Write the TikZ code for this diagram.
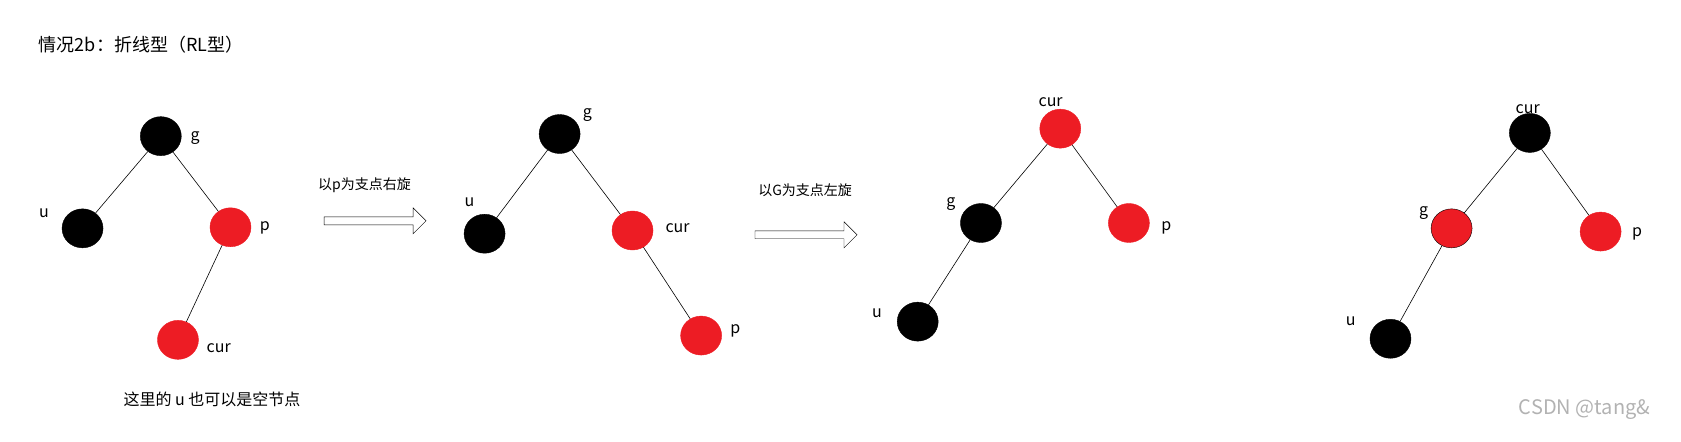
\documentclass[tikz,border=0pt]{standalone}
\usepackage{fontspec}
\setmainfont{Noto Sans CJK SC}
\usetikzlibrary{shapes.geometric,shapes.arrows}
\definecolor{rd}{HTML}{ED1C24}
\tikzset{x=1.072pt,y=-1.072pt,
 bn/.style={ellipse,fill=black,draw=black,minimum width=41pt,minimum height=39pt,inner sep=0},
 rn/.style={ellipse,fill=rd,draw=rd,minimum width=41pt,minimum height=39pt,inner sep=0},
 lb/.style={font=\fontsize{16}{16}\selectfont},
 ln/.style={draw=black,line width=0.6pt},
 harrow/.style={single arrow,draw=black,fill=white,minimum height=102pt,minimum width=26pt,single arrow head extend=5pt,inner sep=2pt}}
\begin{document}
\begin{tikzpicture}
\node[anchor=west,font=\fontsize{18}{18}\selectfont] (title) at (33,42) {情况2b：折线型（RL型）};
% tree1
\node[bn] (g1) at (150,127) {};
\node[bn] (u1) at (77,213) {};
\node[rn] (p1) at (215,212) {};
\node[rn] (c1) at (166,317) {};
\draw[ln] (g1)--(u1) (g1)--(p1) (p1)--(c1);
\node[lb] (lg1) at (182,129) {g};
\node[lb] (lu1) at (41,199) {u};
\node[lb] (lp1) at (247,213) {p};
\node[lb] (lc1) at (204,325) {cur};
\node[anchor=west,font=\fontsize{16}{16}\selectfont] (note) at (112,373) {这里的 u 也可以是空节点};
% arrow1
\node[harrow] (a1) at (348,206) {};
\node[font=\fontsize{14}{14}\selectfont] (ta1) at (340,173) {以p为支点右旋};
% tree2
\node[bn] (g2) at (522,125) {};
\node[bn] (u2) at (452,218) {};
\node[rn] (c2) at (590,215) {};
\node[rn] (p2) at (654,313) {};
\draw[ln] (g2)--(u2) (g2)--(c2) (c2)--(p2);
\node[lb] (lg2) at (548,107) {g};
\node[lb] (lu2) at (438,189) {u};
\node[lb] (lc2) at (632,213) {cur};
\node[lb] (lp2) at (686,309) {p};
% arrow2
\node[harrow] (a2) at (750,219) {};
\node[font=\fontsize{14}{14}\selectfont] (ta2) at (751,177) {以G为支点左旋};
% tree3
\node[rn] (c3) at (989,120) {};
\node[bn] (g3) at (915,208) {};
\node[rn] (p3) at (1053,208) {};
\node[bn] (u3) at (856,300) {};
\draw[ln] (c3)--(g3) (c3)--(p3) (g3)--(u3);
\node[lb] (lc3) at (980,95) {cur};
\node[lb] (lg3) at (887,190) {g};
\node[lb] (lp3) at (1088,213) {p};
\node[lb] (lu3) at (818,292) {u};
% tree4
\node[bn] (c4) at (1427,124) {};
\node[ellipse,fill=rd,draw=black,minimum width=41pt,minimum height=39pt,inner sep=0] (g4) at (1354,213) {};
\node[rn] (p4) at (1493,216) {};
\node[bn] (u4) at (1297,316) {};
\draw[ln] (c4)--(g4) (c4)--(p4) (g4)--(u4);
\node[lb] (lc4) at (1425,102) {cur};
\node[lb] (lg4) at (1328,199) {g};
\node[lb] (lp4) at (1527,218) {p};
\node[lb] (lu4) at (1260,300) {u};
\node[font=\fontsize{20}{20}\selectfont,text=black!30] (wm) at (1478,382) {CSDN @tang\&};
\pgfresetboundingbox
\useasboundingbox (0,0) rectangle (1568,412);
\end{tikzpicture}
\end{document}
